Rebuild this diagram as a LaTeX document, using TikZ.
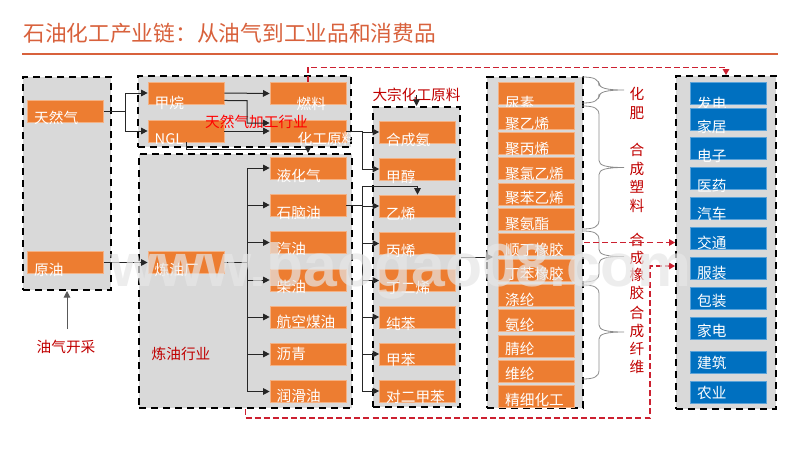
\documentclass[tikz,border=0pt]{standalone}
\usepackage{fontspec}
\setmainfont{Noto Sans CJK SC}
\newfontfamily\markfont{Liberation Sans}
\usetikzlibrary{arrows.meta}

\definecolor{panelgray}{HTML}{D9D9D9}
\definecolor{boxorange}{HTML}{ED7D31}
\definecolor{boxedge}{HTML}{F4B183}
\definecolor{boxblue}{HTML}{0070C0}
\definecolor{blueedge}{HTML}{5BA3D9}
\definecolor{titlered}{HTML}{D8613C}
\definecolor{darkred}{HTML}{C00000}
\definecolor{dashred}{HTML}{CC2030}
\definecolor{bracegray}{HTML}{8C8C8C}
\definecolor{markgray}{HTML}{E6E6E6}

% Un pixel del riferimento
\def\px{0.75pt}

% Testo abbassato nel riquadro: spostamento x (opzionale), spostamento y, testo
\newcommand{\lowtext}[3][0]{\hspace*{\dimexpr #1pt*3/4\relax}\raisebox{\dimexpr 0pt-(#2pt+5.5pt)*3/4\relax}[0pt][0pt]{#3}}

% Graffa grigia: y iniziale, y finale, y della punta
\newcommand{\graybrace}[3]{%
  \draw[bracket] (582,#1) .. controls (594,#1) and (599,{#1+2}) .. (599,{#1+9})
    -- (599,{#3-7}) .. controls (599,{#3-2}) and (606,#3) .. (624,#3)
    .. controls (606,#3) and (599,{#3+2}) .. (599,{#3+7})
    -- (599,{#2-9}) .. controls (599,{#2-2}) and (594,#2) .. (582,#2);}

\tikzset{
  panelbox/.style={fill=panelgray, draw=black, line width=1.5pt, dash pattern=on 5.5pt off 3.5pt},
  obox/.style={fill=boxorange, draw=boxedge, line width=0.5pt, minimum width=76*\px, minimum height=22*\px,
    inner xsep=5pt, inner ysep=0pt, text width=47pt, align=left, text=white,
    font=\fontsize{11pt}{13pt}\selectfont},
  bbox/.style={obox, fill=boxblue, draw=blueedge},
  redlabel/.style={text=darkred, inner sep=0pt, align=center, font=\fontsize{11pt}{13pt}\selectfont},
  arr/.style={draw=black!85, line width=0.75pt, -{Triangle[length=5pt,width=5pt]}},
  line/.style={draw=black!85, line width=0.75pt},
  reddash/.style={draw=dashred, line width=0.8pt, dash pattern=on 4.5pt off 2.3pt, -{Triangle[length=4.5pt,width=5pt]}},
  bracket/.style={draw=bracegray, line width=0.6pt}
}

\begin{document}
\begin{tikzpicture}[x=0.75pt, y=-0.75pt]

  \useasboundingbox (0,0) rectangle (800,450);

  % Titolo
  \node[anchor=west, inner sep=0pt, text=titlered, font=\fontsize{16.3pt}{20pt}\selectfont] (title) at (23,33.5)
    {石油化工产业链：从油气到工业品和消费品};
  \draw[draw=titlered, line width=1pt] (22,54) -- (778,54);

  % Pannelli grigi
  \node[panelbox, minimum width=88*\px, minimum height=213*\px] (panelA) at (67,183.5) {};
  \node[panelbox, minimum width=213*\px, minimum height=71*\px] (panelB) at (244.5,111.5) {};
  \node[panelbox, minimum width=213*\px, minimum height=254*\px] (panelC) at (245.5,281) {};
  \node[panelbox, minimum width=87*\px, minimum height=300*\px] (panelD) at (416.5,257) {};
  \node[panelbox, minimum width=96*\px, minimum height=331*\px] (panelE) at (535,242.5) {};
  \node[panelbox, minimum width=100*\px, minimum height=333*\px] (panelF) at (726,242.5) {};

  % Primo pannello
  \node[obox] (gas) at (65.5,111) {\lowtext{7}{天然气}};
  \node[obox] (crude) at (65.5,262.5) {\lowtext{7}{原油}};

  % Gas naturale
  \node[obox] (methane) at (186,93) {\lowtext{10}{甲烷}};
  \node[obox] (ngl) at (186,131) {\lowtext{8}{NGL}};
  \node[obox] (fuel) at (308,93.5) {\lowtext[20]{10}{燃料}};
  \node[obox] (feedstock) at (308,131) {\lowtext[21]{8}{化工原料}};

  % Raffineria
  \node[obox] (refinery) at (186,262.5) {\lowtext{7}{炼油厂}};
  \node[obox] (lpg) at (308,168) {\lowtext{8}{液化气}};
  \node[obox] (naphtha) at (308,205) {\lowtext{8}{石脑油}};
  \node[obox] (petrol) at (308,242.5) {\lowtext{6}{汽油}};
  \node[obox] (diesel) at (308,280) {\lowtext{7}{柴油}};
  \node[obox] (kerosene) at (308,317) {\lowtext{5}{航空煤油}};
  \node[obox] (asphalt) at (308,354) {\lowtext{0}{沥青}};
  \node[obox] (lube) at (308,391.5) {\lowtext{4}{润滑油}};

  % Materie prime
  \node[obox] (ammonia) at (417.5,132) {\lowtext{8}{合成氨}};
  \node[obox] (methanol) at (417.5,169) {\lowtext{8}{甲醇}};
  \node[obox] (ethylene) at (417.5,206) {\lowtext{8}{乙烯}};
  \node[obox] (propylene) at (417.5,243.5) {\lowtext{7}{丙烯}};
  \node[obox] (butadiene) at (417.5,280.5) {\lowtext{7}{丁二烯}};
  \node[obox] (benzene) at (417.5,317) {\lowtext{7}{纯苯}};
  \node[obox] (toluene) at (417.5,354) {\lowtext{6}{甲苯}};
  \node[obox] (xylene) at (417.5,391) {\lowtext{6}{对二甲苯}};

  % Prodotti chimici
  \node[obox] (urea) at (536.5,93) {\lowtext{10}{尿素}};
  \node[obox] (pe) at (536.5,118) {\lowtext{6}{聚乙烯}};
  \node[obox] (pp) at (536.5,143.5) {\lowtext{5}{聚丙烯}};
  \node[obox] (pvc) at (536.5,168.5) {\lowtext{5.5}{聚氯乙烯}};
  \node[obox] (ps) at (536.5,194) {\lowtext{4}{聚苯乙烯}};
  \node[obox] (pu) at (536.5,219.5) {\lowtext{4}{聚氨酯}};
  \node[obox] (br) at (536.5,244.5) {\lowtext{5}{顺丁橡胶}};
  \node[obox] (sbr) at (536.5,270) {\lowtext{4}{丁苯橡胶}};
  \node[obox] (polyester) at (536.5,295.5) {\lowtext{4}{涤纶}};
  \node[obox] (spandex) at (536.5,320.5) {\lowtext{4}{氨纶}};
  \node[obox] (acrylic) at (536.5,346) {\lowtext{3}{腈纶}};
  \node[obox] (vinylon) at (536.5,371) {\lowtext{3}{维纶}};
  \node[obox] (finechem) at (536.5,396.5) {\lowtext{3}{精细化工}};

  % Settori finali
  \node[bbox] (power) at (728.5,93.5) {\lowtext{10}{发电}};
  \node[bbox] (home) at (728.5,119) {\lowtext{8}{家居}};
  \node[bbox] (electronics) at (728.5,148) {\lowtext{8}{电子}};
  \node[bbox] (pharma) at (728.5,178) {\lowtext{8}{医药}};
  \node[bbox] (cars) at (728.5,208) {\lowtext{6}{汽车}};
  \node[bbox] (transport) at (728.5,238) {\lowtext{5}{交通}};
  \node[bbox] (clothing) at (728.5,268) {\lowtext{5}{服装}};
  \node[bbox] (packaging) at (728.5,298) {\lowtext{3}{包装}};
  \node[bbox] (appliances) at (728.5,328) {\lowtext{3}{家电}};
  \node[bbox] (building) at (728.5,362) {\lowtext{1}{建筑}};
  \node[bbox] (farming) at (728.5,392) {\lowtext{1}{农业}};

  % Etichette rosse
  \node[redlabel, text=red] (gaslabel) at (256.5,122) {天然气加工行业};
  \node[redlabel] (mining) at (66,347) {油气开采};
  \node[redlabel] (refining) at (181,354) {炼油行业};
  \node[redlabel] (dazong) at (416.5,95) {大宗化工原料};
  \node[redlabel, font=\fontsize{11pt}{14.25pt}\selectfont] (fertlabel) at (637,103.5) {化\\肥};
  \node[redlabel, font=\fontsize{11pt}{14pt}\selectfont] (plasticlabel) at (637,178) {合\\成\\塑\\料};
  \node[redlabel, font=\fontsize{11pt}{13.3pt}\selectfont] (rubberlabel) at (637,266.5) {合\\成\\橡\\胶};
  \node[redlabel, font=\fontsize{11pt}{13.3pt}\selectfont] (fibrelabel) at (637,340) {合\\成\\纤\\维};

  % Punti di snodo
  \coordinate (gasfork) at (125.5,111);
  \coordinate (mbend) at (247,100.7);
  \coordinate (ngldrop) at (308,149);
  \coordinate (rtrunk) at (247,262.5);
  \coordinate (ftrunk) at (362,131);
  \coordinate (ntrunk) at (362,205);
  \coordinate (nup) at (362,186);
  \coordinate (dtip) at (493,257);
  \coordinate (miningtop) at (67,329);
  \coordinate (toprail) at (726,67.5);
  \coordinate (botrail) at (650,418);
  \coordinate (botup) at (650,266);

  % Collegamenti gas
  \draw[line] (gas.east) -- (gasfork);
  \draw[arr] (gasfork) |- (methane.west);
  \draw[arr] (gasfork) |- (ngl.west);
  \draw[arr] (methane.east) -- (fuel.west);
  \draw[arr] ([yshift=-5.6pt]methane.east) -- (mbend) |- ([yshift=6pt]feedstock.west);
  \draw[arr] (ngl.east) -- (feedstock.west);
  \draw[arr] (ngl.south) |- (ngldrop) -- (ngldrop |- panelC.north);

  % Collegamenti raffineria
  \draw[arr] (crude.east) -- (refinery.west);
  \draw[line] (refinery.east) -- (rtrunk);
  \draw[arr] (rtrunk) |- (lpg.west);
  \draw[arr] (rtrunk) |- (naphtha.west);
  \draw[arr] (rtrunk) |- (petrol.west);
  \draw[arr] (rtrunk) |- (diesel.west);
  \draw[arr] (rtrunk) |- (kerosene.west);
  \draw[arr] (rtrunk) |- (asphalt.west);
  \draw[arr] (rtrunk) |- (lube.west);

  % Collegamenti materie prime
  \draw[line] (feedstock.east) -- (ftrunk);
  \draw[arr] (ftrunk) |- (ammonia.west);
  \draw[arr] (ftrunk) |- (methanol.west);
  \draw[line] (naphtha.east) -- (ntrunk);
  \draw[arr] (ntrunk) -- (nup) -| (ethylene.north);
  \draw[arr] (ntrunk) |- (ethylene.west);
  \draw[arr] (ntrunk) |- (propylene.west);
  \draw[arr] (ntrunk) |- (butadiene.west);
  \draw[arr] (ntrunk) |- (benzene.west);
  \draw[arr] (ntrunk) |- (toluene.west);
  \draw[arr] (ntrunk) |- (xylene.west);
  \draw[arr] (dazong.center) -- (panelD.north);
  \draw[arr] (panelD.east) -- (dtip);
  \draw[arr, draw=black!65] (miningtop) -- (panelA.south);

  % Graffe
  \graybrace{77}{103}{90}
  \graybrace{106}{229}{167.5}
  \graybrace{231}{282}{256.5}
  \graybrace{285}{379}{332}

  % Tratteggi rossi
  \draw[reddash] (fuel.north) |- (toprail) -- (panelF.north);
  \draw[reddash] (panelE.east) -- (panelF.west);
  \draw[reddash] (panelC.south) |- (botrail) |- (panelF.west |- botup);

  % Filigrana
  \node[anchor=base west, inner sep=0pt, text=markgray, opacity=0.7, font=\markfont\bfseries\fontsize{45.5pt}{50pt}\selectfont] (wmark) at (110,286) {www.baogao08.com};

\end{tikzpicture}
\end{document}
